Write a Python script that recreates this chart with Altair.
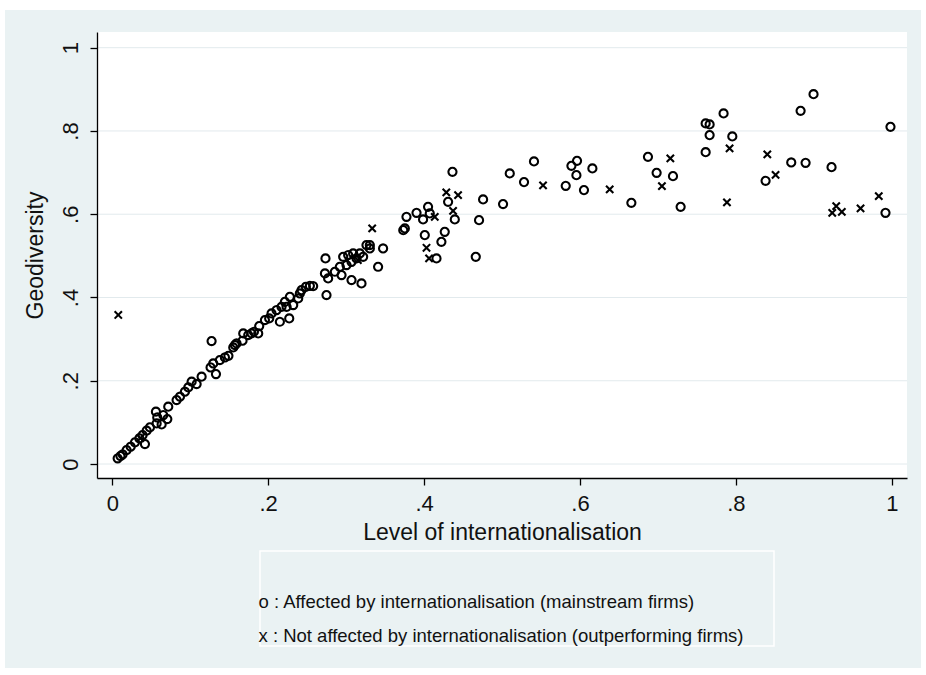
import json
import altair as alt
import pandas as pd

GROUP_A = "Affected by internationalisation (mainstream firms)"
GROUP_B = "Not affected by internationalisation (outperforming firms)"
groups = [GROUP_A, GROUP_B]
legend_markers = ["o", "x"]

# Mainstream firms (hollow circles)
mainstream_x = [
    0.0069, 0.0105, 0.0133, 0.0184, 0.0236, 0.0291, 0.0347, 0.0389, 0.0419, 0.0441,
    0.0483, 0.0560, 0.0569, 0.0577, 0.0633, 0.0654, 0.0706, 0.0718, 0.0825, 0.0868,
    0.0932, 0.0975, 0.1018, 0.1082, 0.1146, 0.1261, 0.1274, 0.1295, 0.1330, 0.1380,
    0.1445, 0.1490, 0.1552, 0.1573, 0.1594, 0.1671, 0.1680, 0.1744, 0.1787, 0.1817,
    0.1872, 0.1885, 0.1958, 0.2013, 0.2043, 0.2107, 0.2150, 0.2171, 0.2214, 0.2236,
    0.2270, 0.2278, 0.2321, 0.2385, 0.2406, 0.2428, 0.2483, 0.2535, 0.2577,
    0.2728, 0.2735, 0.2748, 0.2769, 0.2855, 0.2919, 0.2941, 0.2962, 0.3005, 0.3026,
    0.3069, 0.3069, 0.3090, 0.3133, 0.3176, 0.3197, 0.3218, 0.3261, 0.3304, 0.3304,
    0.3410, 0.3474,
    0.3733, 0.3753, 0.3774, 0.3903, 0.3987, 0.4009, 0.4051, 0.4073, 0.4159, 0.4222,
    0.4265, 0.4308, 0.4364, 0.4394, 0.4663, 0.4705, 0.4757, 0.5013, 0.5099, 0.5282,
    0.5410, 0.5817, 0.5890, 0.5954, 0.5962, 0.6051, 0.6159, 0.6659, 0.6872, 0.6983,
    0.7193, 0.7291, 0.7612, 0.7612, 0.7663, 0.7663, 0.7842, 0.7954, 0.8381, 0.8710,
    0.8830, 0.8894, 0.8996, 0.9227, 0.9919, 0.9983,
]
mainstream_y = [
    0.0136, 0.0190, 0.0232, 0.0336, 0.0416, 0.0520, 0.0616, 0.0696, 0.0480, 0.0800,
    0.0880, 0.1256, 0.0976, 0.1120, 0.0952, 0.1176, 0.1080, 0.1376, 0.1537, 0.1617,
    0.1737, 0.1840, 0.1977, 0.1920, 0.2097, 0.2321, 0.2953, 0.2417, 0.2160, 0.2497,
    0.2561, 0.2600, 0.2801, 0.2857, 0.2897, 0.2961, 0.3137, 0.3097, 0.3137, 0.3177,
    0.3137, 0.3313, 0.3457, 0.3497, 0.3617, 0.3697, 0.3417, 0.3777, 0.3897, 0.3777,
    0.3497, 0.4017, 0.3817, 0.3977, 0.4097, 0.4177, 0.4257, 0.4281, 0.4273,
    0.4578, 0.4938, 0.4057, 0.4458, 0.4618, 0.4738, 0.4538, 0.4978, 0.4778, 0.5018,
    0.4857, 0.4418, 0.5058, 0.4938, 0.5058, 0.4338, 0.4978, 0.5258, 0.5258, 0.5178,
    0.4738, 0.5178,
    0.5618, 0.5658, 0.5938, 0.6034, 0.5875, 0.5498, 0.6178, 0.6018, 0.4938, 0.5338,
    0.5578, 0.6298, 0.7018, 0.5875, 0.4978, 0.5858, 0.6355, 0.6243, 0.6980, 0.6771,
    0.7268, 0.6683, 0.7163, 0.6939, 0.7283, 0.6579, 0.7100, 0.6275, 0.7379, 0.6995,
    0.6915, 0.6178, 0.8180, 0.7491, 0.8156, 0.7900, 0.8420, 0.7868, 0.6803, 0.7244,
    0.8483, 0.7235, 0.8884, 0.7131, 0.6034, 0.8099,
]

# Outperforming firms (crosses)
outperf_x = [
    0.0077, 0.0360, 0.3150, 0.3334, 0.4031, 0.4064, 0.4137, 0.4285, 0.4372, 0.4436,
    0.5526, 0.6381, 0.7051, 0.7159, 0.7885, 0.7919, 0.8403, 0.8509, 0.9236, 0.9287,
    0.9359, 0.9599, 0.9833,
]
outperf_y = [
    0.3580, 0.0620, 0.4900, 0.5658, 0.5194, 0.4938, 0.5938, 0.6523, 0.6082, 0.6459,
    0.6691, 0.6595, 0.6675, 0.7340, 0.6283, 0.7580, 0.7436, 0.6947, 0.6034, 0.6195,
    0.6058, 0.6139, 0.6435,
]

tick_values = [0, 0.2, 0.4, 0.6, 0.8, 1]
tick_labels = ["0", ".2", ".4", ".6", ".8", "1"]

x_title = "Level of internationalisation"
y_title = "Geodiversity"

points = pd.DataFrame({
    "x": mainstream_x + outperf_x,
    "y": mainstream_y + outperf_y,
    "group": [GROUP_A] * len(mainstream_x) + [GROUP_B] * len(outperf_x),
})
grid_df = pd.DataFrame({"y": tick_values})

FONT = "Liberation Sans"
BG = "#eaf2f3"
INK = "#111111"
XPATH = "M-0.9,-0.9L0.9,0.9M-0.9,0.9L0.9,-0.9"

xscale = alt.Scale(domain=[-0.0196, 1.0195], nice=False, zero=False)
yscale = alt.Scale(domain=[-0.0336, 1.0377], nice=False, zero=False)

tick_expr = json.dumps(tick_labels) + "[round(datum.value*5)]"

common_axis = dict(
    values=tick_values, labelExpr=tick_expr, grid=False,
    domainColor="black", domainWidth=1.3, tickColor="black", tickWidth=1.3, tickSize=7,
    labelFont=FONT, labelFontSize=22, labelColor=INK, labelFlush=False, labelOverlap=False,
    titleFont=FONT, titleFontSize=23, titleFontWeight="normal", titleColor=INK, zindex=1,
)
xaxis = alt.Axis(title=x_title, labelPadding=8, titlePadding=7, **common_axis)
yaxis = alt.Axis(title=y_title, labelPadding=8, titlePadding=12, labelAngle=-90,
                 labelAlign="center", labelBaseline="bottom", **common_axis)

one = alt.Data(values=[{}])

bg = alt.Chart(one).mark_rect(color=BG).encode(
    x=alt.value(-92), x2=alt.value(824), y=alt.value(-22), y2=alt.value(636))
plot_bg = alt.Chart(one).mark_rect(color="white").encode(
    x=alt.value(0), x2=alt.value(810), y=alt.value(0), y2=alt.value(446))
legend_box = alt.Chart(one).mark_rect(fillOpacity=0, stroke="white", strokeWidth=1.5).encode(
    x=alt.value(163), x2=alt.value(677), y=alt.value(519), y2=alt.value(614))

grid = alt.Chart(grid_df).mark_rule(color="#e2eaed", strokeWidth=1).encode(
    y=alt.Y("y:Q", scale=yscale, axis=yaxis),
    x=alt.value(0), x2=alt.value(810),
)

legend_expr = (json.dumps(legend_markers) + "[indexof(" + json.dumps(groups)
               + ", datum.label)] + ' : ' + datum.label")

pts = alt.Chart(points).mark_point(filled=False, strokeWidth=2.1, color="black",
                                   opacity=1, size=66).encode(
    x=alt.X("x:Q", scale=xscale, axis=xaxis),
    y=alt.Y("y:Q", scale=yscale, axis=yaxis),
    shape=alt.Shape("group:N", scale=alt.Scale(domain=groups, range=["circle", XPATH]),
                    legend=alt.Legend(orient="none", legendX=143, legendY=561, title=None,
                                      direction="vertical", labelExpr=legend_expr,
                                      labelFont=FONT, labelFontSize=18.5, labelColor=INK,
                                      labelLimit=1000, symbolOpacity=0, symbolSize=1,
                                      symbolStrokeWidth=0, labelOffset=0, rowPadding=15,
                                      padding=0)),
)

chart = alt.layer(bg, plot_bg, legend_box, grid, pts).properties(
    width=810, height=446,
    padding={"left": 97, "top": 32, "right": 19, "bottom": 197},
    autosize=alt.AutoSizeParams(type="none"),
    background="white",
).configure_view(stroke="transparent")

chart.save("out.html", embed_options={"renderer": "svg", "actions": False})
